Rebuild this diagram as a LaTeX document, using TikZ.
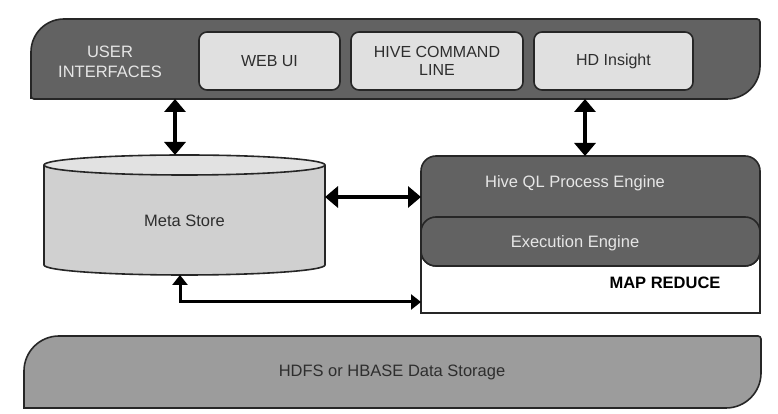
\documentclass[tikz,border=0pt]{standalone}
\usepackage{fontspec}
\setmainfont{Liberation Sans}
\usetikzlibrary{arrows.meta}
\definecolor{darkband}{HTML}{626262}
\definecolor{lightbox}{HTML}{E0E0E0}
\definecolor{cylfill}{HTML}{D0D0D0}
\definecolor{cyltop}{HTML}{E2E2E2}
\definecolor{storeband}{HTML}{9C9C9C}
\definecolor{txtdark}{HTML}{2E2E2E}
\definecolor{txtlight}{HTML}{E6E6E6}
\tikzset{
  outline/.style={draw=black!85, line width=1.6pt},
  uibox/.style={outline, fill=lightbox, rounded corners=8pt, minimum width=141pt, minimum height=58pt, inner sep=0pt, align=center, text=txtdark, font=\fontsize{16}{18}\selectfont},
  lbl/.style={inner sep=0pt, align=center, font=\fontsize{16.5}{20}\selectfont},
  bigarrow/.style={line width=4pt, {Triangle[width=21pt,length=13pt]}-{Triangle[width=21pt,length=13pt]}},
  thinarrow/.style={line width=3pt, {Triangle[width=15pt,length=10pt]}-{Triangle[width=15pt,length=10pt]}}
}
\begin{document}
\begin{tikzpicture}[x=1pt,y=1pt]
\useasboundingbox (0,0) rectangle (778,414);
% top band
\draw[outline, fill=darkband] (31,315) -- (31,362) arc[start angle=180,end angle=90,radius=33] -- (757,395) arc[start angle=90,end angle=0,radius=3] -- (760,348) arc[start angle=0,end angle=-90,radius=33] -- (34,315) arc[start angle=270,end angle=180,radius=3] -- cycle;
\coordinate (uiA) at (175,315);
\coordinate (uiB) at (585,315);
\node[lbl, text=txtlight] (ui) at (110,352) {USER\\INTERFACES};
\node[uibox] (web) at (269.5,353) {WEB UI};
\node[uibox, minimum width=172pt] (cmd) at (437,353) {HIVE COMMAND\\LINE};
\node[uibox, minimum width=159pt] (hd) at (613.5,353) {HD Insight};
% cylinder
\draw[outline, fill=cylfill] (44,249) -- (44,149) arc[start angle=180,end angle=360,x radius=140.5,y radius=10] -- (325,249);
\draw[outline, fill=cyltop] (184.5,249) ellipse[x radius=140.5,y radius=10];
\node[lbl, text=txtdark] (meta) at (184.5,193) {Meta Store};
\coordinate (metaTop) at (175,259);
\coordinate (metaRight) at (325,217);
\coordinate (metaBot) at (180,139);
% hive block
\draw[outline, fill=white] (421,200) -- (421,101) -- (760,101) -- (760,200);
\draw[outline, fill=darkband, rounded corners=15pt] (421,148) rectangle (760,258);
\draw[outline, fill=darkband, rounded corners=15pt] (421,148) rectangle (760,197);
\node[lbl, text=txtlight] (hql) at (575,231) {Hive QL Process Engine};
\node[lbl, text=txtlight] (exe) at (575,171) {Execution Engine};
\node[lbl, text=black, font=\fontsize{16.5}{20}\selectfont\bfseries] (mr) at (665,131) {MAP REDUCE};
\coordinate (hqlTop) at (585,258);
\coordinate (hqlLeft) at (421,217);
\coordinate (mrLeft) at (421,112);
% bottom band
\draw[outline, fill=storeband] (24,6) -- (24,43) arc[start angle=180,end angle=90,radius=35] -- (758,78) arc[start angle=90,end angle=0,radius=3] -- (761,41) arc[start angle=0,end angle=-90,radius=35] -- cycle;
\node[lbl, text=txtdark] (hdfs) at (392,42) {HDFS or HBASE Data Storage};
% arrows
\draw[bigarrow] (uiA) -- (metaTop);
\draw[bigarrow] (uiB) -- (hqlTop);
\draw[bigarrow] (metaRight) -- (hqlLeft);
\draw[thinarrow] (metaBot) |- (mrLeft);
\end{tikzpicture}
\end{document}
